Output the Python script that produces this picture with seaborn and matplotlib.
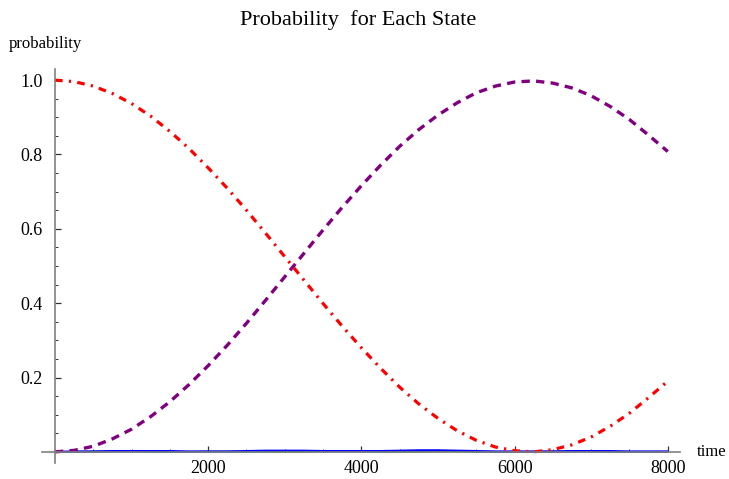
import matplotlib
matplotlib.use("Agg")
import matplotlib.pyplot as plt
import pandas as pd
import seaborn as sns
from matplotlib.ticker import MultipleLocator, FixedLocator


TIME = [0, 250, 500, 750, 1000, 1250, 1500, 1750, 2000, 2250, 2500, 2750,
        3000, 3250, 3500, 3750, 4000, 4250, 4500, 4750, 5000, 5250, 5500,
        5750, 6000, 6250, 6500, 6750, 7000, 7250, 7500, 7750, 8000]
STATE_RED = [1.000, 0.996, 0.984, 0.964, 0.937, 0.903, 0.862, 0.816, 0.764,
             0.709, 0.650, 0.588, 0.525, 0.462, 0.399, 0.338, 0.280, 0.225,
             0.174, 0.129, 0.090, 0.057, 0.031, 0.013, 0.003, 0.000, 0.006,
             0.019, 0.040, 0.069, 0.104, 0.146, 0.190]
STATE_PURPLE = [0.000, 0.004, 0.015, 0.035, 0.061, 0.095, 0.135, 0.181, 0.232,
                0.287, 0.346, 0.408, 0.471, 0.534, 0.597, 0.658, 0.716, 0.771,
                0.822, 0.867, 0.906, 0.939, 0.966, 0.984, 0.995, 0.998, 0.992,
                0.979, 0.958, 0.929, 0.894, 0.852, 0.808]
STATE_BLUE = [0.000, 0.001, 0.001, 0.002, 0.002, 0.002, 0.002, 0.001, 0.001,
              0.001, 0.002, 0.003, 0.003, 0.003, 0.002, 0.002, 0.002, 0.002,
              0.003, 0.004, 0.004, 0.003, 0.002, 0.001, 0.001, 0.001, 0.001,
              0.002, 0.002, 0.002, 0.001, 0.001, 0.001]
STATE_GREEN = [0.000, 0.000, 0.001, 0.001, 0.001, 0.000, 0.000, 0.000, 0.001,
               0.001, 0.001, 0.000, 0.000, 0.000, 0.001, 0.001, 0.001, 0.000,
               0.000, 0.000, 0.001, 0.001, 0.000, 0.000, 0.000, 0.000, 0.001,
               0.001, 0.001, 0.000, 0.000, 0.000, 0.000]
X_TICKS = [2000, 4000, 6000, 8000]
Y_TICKS = [0.2, 0.4, 0.6, 0.8, 1.0]


def main():
    sns.set_theme(style="white")
    plt.rcParams["font.family"] = ["Liberation Serif", "DejaVu Serif"]
    plt.rcParams["lines.scale_dashes"] = False
    plt.rcParams["text.color"] = "black"

    df = pd.DataFrame({
        "time": TIME,
        "red": STATE_RED,
        "purple": STATE_PURPLE,
        "blue": STATE_BLUE,
        "green": STATE_GREEN,
    })

    fig = plt.figure(figsize=(7.29, 4.79), dpi=100)
    ax = fig.add_axes([42 / 729, 16 / 479, 638 / 729, 394 / 479])

    sns.lineplot(data=df, x="time", y="green", ax=ax, color="#008000", linewidth=1.2)
    sns.lineplot(data=df, x="time", y="blue", ax=ax, color="#0000ff", linewidth=1.6)
    sns.lineplot(data=df, x="time", y="purple", ax=ax, color="#800080",
                 linewidth=2.4, linestyle=(0, (6, 4.5)))
    sns.lineplot(data=df, x="time", y="red", ax=ax, color="#ff0000",
                 linewidth=2.3, linestyle=(0, (5.5, 4.5, 1.6, 4.5)))

    ax.set_xlim(-170, 8160)
    ax.set_ylim(-0.03, 1.03)

    for side in ["top", "right"]:
        ax.spines[side].set_visible(False)
    for side in ["left", "bottom"]:
        ax.spines[side].set_position(("data", 0))
        ax.spines[side].set_color("#808080")
        ax.spines[side].set_linewidth(1.2)

    ax.xaxis.set_major_locator(FixedLocator(X_TICKS))
    ax.xaxis.set_minor_locator(MultipleLocator(500))
    ax.yaxis.set_major_locator(FixedLocator(Y_TICKS))
    ax.yaxis.set_minor_locator(MultipleLocator(0.05))
    ax.set_xticklabels([str(t) for t in X_TICKS])
    ax.set_yticklabels([f"{t:.1f}" for t in Y_TICKS])
    ax.tick_params(which="both", direction="in", color="#333333", labelsize=13,
                   labelcolor="black", bottom=True, left=True, top=False,
                   right=False)
    ax.tick_params(which="major", length=4, width=0.9)
    ax.tick_params(which="minor", length=2.5, width=0.7)
    ax.tick_params(axis="x", which="major", pad=6)
    ax.tick_params(axis="y", which="major", pad=9)

    ax.set_xlabel("")
    ax.set_ylabel("")
    ax.grid(False)

    fig.text(358 / 729, 1 - 20 / 479, "Probability  for Each State",
             ha="center", va="center", fontsize=16, color="black")
    fig.text(45 / 729, 1 - 44 / 479, "probability", ha="center", va="center",
             fontsize=12, color="black")
    fig.text(697 / 729, 1 - 452 / 479, "time", ha="left", va="center",
             fontsize=12, color="black")

    fig.savefig("out.png", dpi=100)
    plt.close(fig)


if __name__ == "__main__":
    main()
